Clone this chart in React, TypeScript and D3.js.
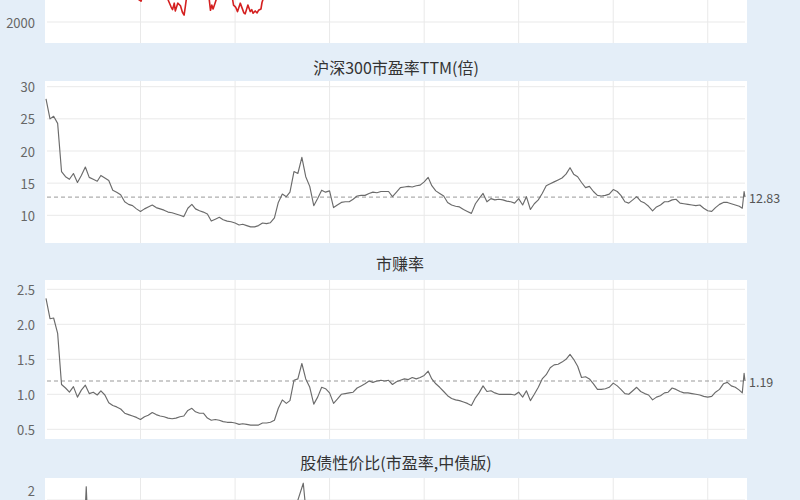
import React from "react";
import * as d3 from "d3";

// ---------- DATA ----------
const monthStart = "2010-01-01";

// 沪深300市盈率TTM (monthly, 2010-01 .. 2024-09)
const peValues = [
  28.1, 25.0, 25.4, 24.3, 16.8, 16.0, 15.6, 16.5, 15.1, 16.2,
  17.5, 15.9, 15.6, 15.3, 16.2, 15.8, 15.4, 13.9, 13.6, 13.2,
  12.1, 11.7, 11.5, 11.0, 10.6, 11.0, 11.3, 11.6, 11.2, 11.0,
  10.8, 10.5, 10.4, 10.2, 10.0, 9.8, 11.1, 11.7, 11.0, 10.7,
  10.5, 10.2, 9.1, 9.4, 9.7, 9.3, 9.1, 9.0, 8.8, 8.5,
  8.6, 8.4, 8.2, 8.2, 8.4, 8.8, 8.7, 8.85, 9.6, 12.0,
  13.3, 12.9, 13.6, 16.8, 16.5, 19.0, 16.0, 14.5, 11.5, 12.6,
  13.9, 13.6, 13.8, 11.2, 11.6, 12.0, 12.1, 12.1, 12.5, 13.0,
  13.1, 13.1, 13.4, 13.6, 13.5, 13.7, 13.7, 13.7, 12.9, 13.6,
  14.3, 14.4, 14.5, 14.4, 14.6, 14.7, 15.2, 15.9, 14.6, 13.8,
  13.4, 13.0, 12.0, 11.6, 11.4, 11.3, 10.9, 10.6, 10.3, 11.8,
  12.6, 13.4, 12.1, 12.6, 12.4, 12.5, 12.4, 12.2, 12.1, 11.9,
  12.6, 11.6, 12.9, 10.9, 11.8, 12.4, 13.4, 14.6, 14.9, 15.2,
  15.5, 15.8, 16.4, 17.4, 16.4, 16.0, 15.1, 14.3, 14.5, 13.7,
  13.1, 13.0, 13.1, 13.3, 14.0, 13.7, 13.1, 12.1, 11.9, 12.4,
  12.9, 12.2, 11.9, 11.4, 10.7, 11.3, 11.6, 12.1, 12.1, 12.4,
  12.5, 11.9, 11.8, 11.7, 11.6, 11.5, 11.6, 11.1, 10.7, 10.6,
  11.2, 11.7, 12.0, 12.0, 11.8, 11.6, 11.4,
];
const peTailDates = ["2024-09-24", "2024-10-08", "2024-10-15"];
const peTailValues = [11.1, 13.7, 12.83];

// 市赚率 (monthly, 2010-01 .. 2024-09)
const prValues = [
  2.37, 2.08, 2.09, 1.87, 1.14, 1.09, 1.03, 1.11, 0.96, 1.06,
  1.13, 1.01, 1.03, 0.99, 1.05, 0.99, 0.88, 0.84, 0.82, 0.79,
  0.73, 0.71, 0.69, 0.67, 0.64, 0.68, 0.70, 0.74, 0.71, 0.69,
  0.68, 0.66, 0.65, 0.66, 0.68, 0.69, 0.77, 0.80, 0.75, 0.73,
  0.73, 0.66, 0.63, 0.64, 0.63, 0.61, 0.60, 0.60, 0.59, 0.57,
  0.58, 0.57, 0.56, 0.56, 0.56, 0.59, 0.59, 0.60, 0.63, 0.80,
  0.92, 0.87, 0.91, 1.20, 1.22, 1.44, 1.22, 1.10, 0.86, 0.96,
  1.10, 1.08, 1.02, 0.87, 0.93, 1.00, 1.01, 1.02, 1.03, 1.09,
  1.12, 1.15, 1.19, 1.17, 1.19, 1.20, 1.19, 1.20, 1.14, 1.18,
  1.20, 1.22, 1.21, 1.24, 1.22, 1.24, 1.27, 1.33, 1.22, 1.15,
  1.10, 1.04, 0.98, 0.94, 0.92, 0.91, 0.89, 0.87, 0.84, 0.95,
  1.02, 1.12, 1.04, 1.05, 1.02, 1.00, 1.00, 1.00, 1.00, 0.99,
  1.03, 0.96, 1.05, 0.91, 1.00, 1.10, 1.22, 1.28, 1.38, 1.42,
  1.43, 1.46, 1.50, 1.57, 1.50, 1.40, 1.24, 1.25, 1.22, 1.15,
  1.07, 1.07, 1.08, 1.10, 1.16, 1.12, 1.07, 1.01, 1.00, 1.05,
  1.10, 1.04, 1.01, 0.99, 0.92, 0.96, 0.98, 1.02, 1.03, 1.09,
  1.07, 1.04, 1.02, 1.02, 1.01, 1.00, 0.99, 0.97, 0.96, 0.97,
  1.03, 1.07, 1.15, 1.17, 1.12, 1.10, 1.06,
];
const prTailDates = ["2024-09-24", "2024-10-08", "2024-10-15"];
const prTailValues = [1.02, 1.30, 1.19];

// 沪深300指数 (top chart, mostly above the visible area)
const indexDates = [
  "2010-01-01", "2010-04-01", "2010-07-01", "2010-11-01", "2011-04-01", "2011-07-01",
  "2011-10-01", "2011-12-15", "2012-01-05", "2012-02-20", "2012-05-05", "2012-07-10",
  "2012-08-10", "2012-08-25", "2012-09-05", "2012-09-18", "2012-09-26", "2012-10-15",
  "2012-11-05", "2012-11-20", "2012-12-03", "2012-12-12", "2012-12-25", "2013-02-05",
  "2013-04-15", "2013-05-25", "2013-06-15", "2013-06-25", "2013-07-05", "2013-07-15",
  "2013-08-01", "2013-08-20", "2013-09-15", "2013-11-15", "2013-12-10", "2013-12-20",
  "2014-01-05", "2014-01-20", "2014-02-10", "2014-03-10", "2014-03-20", "2014-04-10",
  "2014-04-28", "2014-05-10", "2014-05-20", "2014-06-05", "2014-06-20", "2014-07-01",
  "2014-07-20", "2014-07-28", "2014-08-10", "2014-09-15", "2014-11-20", "2014-12-31",
  "2015-06-08", "2015-09-01", "2016-01-28", "2016-12-01", "2018-01-20", "2018-12-31",
  "2021-02-10", "2022-10-31", "2024-02-05", "2024-09-13", "2024-10-08",
];
const indexValues = [
  3550, 3250, 2700, 3400, 3200, 3000,
  2600, 2350, 2320, 2600, 2700, 2450,
  2300, 2230, 2190, 2290, 2170, 2290,
  2250, 2150, 2105, 2230, 2420, 2750,
  2450, 2650, 2350, 2180, 2260, 2200,
  2300, 2420, 2500, 2400, 2380, 2260,
  2230, 2160, 2290, 2140, 2125, 2260,
  2160, 2190, 2135, 2170, 2140, 2180,
  2200, 2300, 2380, 2480, 2600, 3500,
  5350, 3400, 2850, 3500, 4400, 3000,
  5800, 3500, 3200, 3160, 4000,
];

// 股债性价比 (bottom chart, only the top of it is visible)
const bondDates = [
  "2010-01-01", "2010-03-01", "2010-05-01", "2010-07-01", "2010-09-01", "2010-11-01",
  "2010-11-08", "2010-11-15", "2010-12-15", "2011-04-01", "2011-08-01", "2011-12-01",
  "2012-06-01", "2012-12-01", "2013-06-01", "2013-12-01", "2014-06-01", "2014-12-01",
  "2015-03-01", "2015-04-28", "2015-06-12", "2015-06-26", "2015-07-10", "2015-09-01",
  "2016-03-01", "2016-12-01", "2017-12-01", "2018-12-01", "2019-12-01", "2020-12-01",
  "2021-02-15", "2021-12-01", "2022-10-31", "2023-12-01", "2024-09-20", "2024-10-15",
];
const bondValues = [
  1.55, 1.62, 1.50, 1.58, 1.66, 1.90,
  2.19, 1.88, 1.68, 1.70, 1.55, 1.42,
  1.38, 1.30, 1.25, 1.15, 1.22, 1.45,
  1.62, 1.98, 2.24, 1.97, 1.70, 1.55,
  1.45, 1.40, 1.42, 1.10, 1.25, 1.40,
  1.58, 1.35, 1.10, 1.05, 1.00, 1.18,
];

const gridYears = ["2012-01-01", "2014-01-01", "2016-01-01", "2018-01-01", "2020-01-01", "2022-01-01", "2024-01-01"];
const indexTicks = [2000];
const peTicks = [10, 15, 20, 25, 30];
const prTicks = [0.5, 1.0, 1.5, 2.0, 2.5];
const bondTicks = [2];

const titlePE = "沪深300市盈率TTM(倍)";
const titlePR = "市赚率";
const titleBond = "股债性价比(市盈率,中债版)";

// ---------- LAYOUT / STYLE ----------
const FONT = "'Noto Sans CJK SC','Noto Sans',sans-serif";
const BG = "#e4eef8";
const GRID = "#e9e9e9";
const LINE = "#6b6b6b";
const PANEL_L = 45;
const PANEL_R = 747;

const parse = d3.timeParse("%Y-%m-%d");
const x = d3
  .scaleTime()
  .domain([parse("2010-01-01") as Date, parse("2024-10-15") as Date])
  .range([46, 745]);

type Pt = { d: Date; v: number };

function monthly(values: number[], tailDates: string[], tailValues: number[]): Pt[] {
  const s = parse(monthStart) as Date;
  const pts: Pt[] = values.map((v, i) => ({ d: d3.timeMonth.offset(s, i), v }));
  tailDates.forEach((t, i) => pts.push({ d: parse(t) as Date, v: tailValues[i] }));
  return pts;
}
function paired(dates: string[], values: number[]): Pt[] {
  return dates.map((t, i) => ({ d: parse(t) as Date, v: values[i] }));
}

const peData = monthly(peValues, peTailDates, peTailValues);
const prData = monthly(prValues, prTailDates, prTailValues);
const indexData = paired(indexDates, indexValues);
const bondData = paired(bondDates, bondValues);

type PanelProps = {
  id: string;
  top: number;
  bottom: number;
  y: d3.ScaleLinear<number, number>;
  ticks: number[];
  tickFmt: (v: number) => string;
  data: Pt[];
  color: string;
  width: number;
  refLine?: boolean;
  refFmt?: (v: number) => string;
  labelShift?: number;
};

function Panel({ id, top, bottom, y, ticks, tickFmt, data, color, width, refLine, refFmt, labelShift = 0 }: PanelProps) {
  const line = d3
    .line<Pt>()
    .x((p) => x(p.d))
    .y((p) => y(p.v));
  const last = data[data.length - 1];
  return (
    <g>
      <defs>
        <clipPath id={`clip-${id}`}>
          <rect x={PANEL_L} y={top} width={PANEL_R - PANEL_L} height={bottom - top} />
        </clipPath>
      </defs>
      <rect x={PANEL_L} y={top} width={PANEL_R - PANEL_L} height={bottom - top} fill="#ffffff" />
      {gridYears.map((g) => (
        <line key={g} x1={x(parse(g) as Date)} x2={x(parse(g) as Date)} y1={top} y2={bottom} stroke={GRID} strokeWidth={1} />
      ))}
      {ticks.map((t) => (
        <g key={t}>
          <line x1={47} x2={745} y1={y(t)} y2={y(t)} stroke={GRID} strokeWidth={1} />
          <text x={35} y={y(t) + labelShift} textAnchor="end" dominantBaseline="central" fontSize={13} fill="#666" fontFamily={FONT}>
            {tickFmt(t)}
          </text>
        </g>
      ))}
      {refLine && (
        <line x1={47} x2={745} y1={y(last.v)} y2={y(last.v)} stroke="#999" strokeWidth={1} strokeDasharray="4,3" />
      )}
      <g clipPath={`url(#clip-${id})`}>
        <path d={line(data) || ""} fill="none" stroke={color} strokeWidth={width} strokeLinejoin="round" />
      </g>
      {refLine && refFmt && (
        <text x={749} y={y(last.v)} dominantBaseline="central" fontSize={12.5} fill="#555" fontFamily={FONT}>
          {refFmt(last.v)}
        </text>
      )}
    </g>
  );
}

export default function App() {
  const yIndex = d3.scaleLinear().domain([2000, 3000]).range([22, -43]);
  const yPE = d3.scaleLinear().domain([10, 30]).range([215.3, 86.7]);
  const yPR = d3.scaleLinear().domain([0.5, 2.5]).range([429.3, 289.3]);
  const yBond = d3.scaleLinear().domain([1.5, 2]).range([535, 500]);

  return (
    <div style={{ position: "fixed", left: 0, top: 0, width: 800, height: 500, overflow: "hidden" }}>
      <svg width={800} height={500} style={{ display: "block" }}>
        <rect x={0} y={0} width={800} height={500} fill={BG} />

        <Panel id="idx" top={-30} bottom={43} y={yIndex} ticks={indexTicks} tickFmt={(v) => String(v)}
          data={indexData} color="#d42020" width={1.6} />

        <text x={396} y={67} textAnchor="middle" dominantBaseline="central" fontSize={16} fill="#333" fontFamily={FONT}>
          {titlePE}
        </text>
        <Panel id="pe" top={81} bottom={243} y={yPE} ticks={peTicks} tickFmt={(v) => String(v)}
          data={peData} color={LINE} width={1.15} refLine refFmt={(v) => v.toFixed(2)} />

        <text x={400} y={263} textAnchor="middle" dominantBaseline="central" fontSize={16} fill="#333" fontFamily={FONT}>
          {titlePR}
        </text>
        <Panel id="pr" top={280} bottom={439} y={yPR} ticks={prTicks} tickFmt={(v) => v.toFixed(1)}
          data={prData} color={LINE} width={1.15} refLine refFmt={(v) => v.toFixed(2)} />

        <text x={396} y={462} textAnchor="middle" dominantBaseline="central" fontSize={16} fill="#333" fontFamily={FONT}>
          {titleBond}
        </text>
        <Panel id="bond" top={478} bottom={560} y={yBond} ticks={bondTicks} tickFmt={(v) => String(v)}
          data={bondData} color={LINE} width={1.15} labelShift={-10} />
      </svg>
    </div>
  );
}
